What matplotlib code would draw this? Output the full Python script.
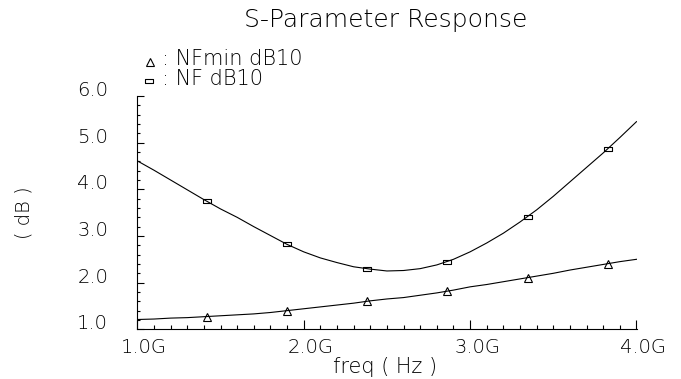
import numpy as np
import matplotlib
matplotlib.use("Agg")
import matplotlib.pyplot as plt
import matplotlib.transforms as mtransforms


# Curves, every 0.1 GHz from 1.0G to 4.0G
freq_ghz = [1.0, 1.1, 1.2, 1.3, 1.4, 1.5, 1.6, 1.7, 1.8, 1.9, 2.0,
            2.1, 2.2, 2.3, 2.4, 2.5, 2.6, 2.7, 2.8, 2.9, 3.0,
            3.1, 3.2, 3.3, 3.4, 3.5, 3.6, 3.7, 3.8, 3.9, 4.0]
nf_db = [4.61, 4.41, 4.20, 3.99, 3.78, 3.58, 3.40, 3.20, 3.01, 2.82, 2.66,
         2.53, 2.43, 2.34, 2.29, 2.25, 2.26, 2.30, 2.38, 2.50, 2.66,
         2.85, 3.06, 3.30, 3.56, 3.85, 4.16, 4.47, 4.78, 5.11, 5.45]
nfmin_db = [1.21, 1.22, 1.24, 1.25, 1.27, 1.29, 1.31, 1.33, 1.36, 1.40, 1.44,
            1.48, 1.52, 1.56, 1.61, 1.65, 1.68, 1.73, 1.78, 1.84, 1.91,
            1.96, 2.02, 2.08, 2.14, 2.20, 2.27, 2.33, 2.39, 2.45, 2.50]

# marker positions (same x for both traces)
marker_ghz = [1.42, 1.90, 2.38, 2.86, 3.35, 3.83]
nf_marker_db = [3.74, 2.82, 2.30, 2.45, 3.41, 4.87]
nfmin_marker_db = [1.27, 1.40, 1.60, 1.82, 2.11, 2.41]

xtick_vals = [1.0, 2.0, 3.0, 4.0]
xtick_labels = ["1.0G", "2.0G", "3.0G", "4.0G"]
ytick_vals = [1.0, 2.0, 3.0, 4.0, 5.0, 6.0]
ytick_labels = ["1.0", "2.0", "3.0", "4.0", "5.0", "6.0"]

# open rectangle marker used by Cadence for the 2nd trace
RECT = [(-1, -0.45), (1, -0.45), (1, 0.45), (-1, 0.45), (-1, -0.45)]

plt.rcParams['font.family'] = ['DejaVu Sans']
plt.rcParams['font.weight'] = 'light'
plt.rcParams['axes.labelweight'] = 'light'

fig = plt.figure(figsize=(6.81, 3.79), dpi=100)
W, H = 681.0, 379.0
ax = fig.add_axes([137.3 / W, 1 - 329.3 / H, (636.5 - 137.3) / W, (329.3 - 96.0) / H])

ax.plot(freq_ghz, nfmin_db, color='black', lw=0.8)
ax.plot(freq_ghz, nf_db, color='black', lw=0.8)
ax.plot(marker_ghz, nfmin_marker_db, ls='none', marker='^', ms=6,
        mfc='none', mec='black', mew=0.8)
ax.plot(marker_ghz, nf_marker_db, ls='none', marker=RECT, ms=6,
        mfc='none', mec='black', mew=0.8)

ax.set_xlim(1.0, 4.0)
ax.set_ylim(1.0, 6.0)
ax.spines['top'].set_visible(False)
ax.spines['right'].set_visible(False)
for s in ['left', 'bottom']:
    ax.spines[s].set_linewidth(0.8)

ax.set_xticks(xtick_vals, labels=xtick_labels)
ax.set_xticks(np.arange(1.0, 4.0001, 0.1), minor=True)
ax.set_yticks(ytick_vals, labels=ytick_labels)
ax.set_yticks(np.arange(1.0, 6.0001, 0.2), minor=True)

ax.tick_params(axis='both', which='both', direction='in', width=0.8, labelsize=14)
ax.tick_params(axis='x', which='major', length=6.5, pad=6)
ax.tick_params(axis='x', which='minor', length=2.9)
ax.tick_params(axis='y', which='major', length=5, pad=21)
ax.tick_params(axis='y', which='minor', length=2.5)

# Cadence puts the x labels a bit right of the tick and y labels on the tick line
shift_x = mtransforms.ScaledTranslation(7 / 100, 0, fig.dpi_scale_trans)
for lbl in ax.get_xticklabels():
    lbl.set_transform(lbl.get_transform() + shift_x)
plt.setp(ax.get_yticklabels(), va='baseline')

ax.set_xlabel("freq ( Hz )", fontsize=15, fontweight='light', va='baseline')
ax.xaxis.set_label_coords(0.496, -0.1886)
ax.set_ylabel("( dB )", fontsize=14, fontweight='light', va='center')
ax.yaxis.set_label_coords(-0.227, 0.5)

fig.text(386 / W, 1 - 26.7 / H, "S-Parameter Response", fontsize=18,
         ha='center', va='baseline')

# legend block, top left
fig.text(162 / W, 1 - 65 / H, ": NFmin dB10", fontsize=15, va='baseline')
fig.text(162 / W, 1 - 85 / H, ": NF dB10", fontsize=15, va='baseline')
fig.lines.append(plt.Line2D([150 / W], [1 - 61.7 / H], transform=fig.transFigure,
                            ls='none', marker='^', ms=5.5, mfc='none', mec='black', mew=0.8))
fig.lines.append(plt.Line2D([149 / W], [1 - 81 / H], transform=fig.transFigure,
                            ls='none', marker=RECT, ms=6, mfc='none', mec='black', mew=0.8))

fig.savefig("out.png", dpi=100)
